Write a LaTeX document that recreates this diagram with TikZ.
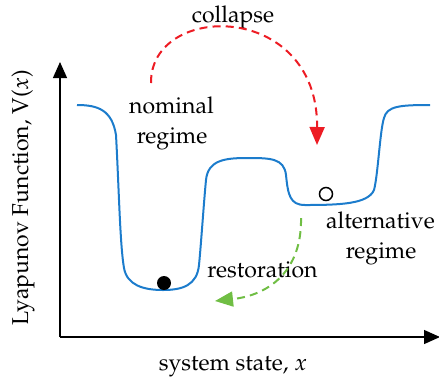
\documentclass[tikz,border=0pt]{standalone}
\usepackage[T1]{fontenc}
\usepackage{mathpazo}
\usetikzlibrary{arrows.meta}
\definecolor{curveblue}{RGB}{28,124,204}
\definecolor{arrred}{RGB}{237,28,36}
\definecolor{arrgreen}{RGB}{112,190,68}
\begin{document}
\begin{tikzpicture}[x=0.5pt,y=-0.5pt,
  lbl/.style={anchor=base,inner sep=0pt,font=\fontsize{11.5}{14}\selectfont},
  axisline/.style={line width=0.65pt,-{Triangle[length=8pt,width=7pt]}},
  potential/.style={curveblue,line width=1pt,line join=round},
  transit/.style={line width=1pt,dash pattern=on 4pt off 2.6pt,-{Triangle[length=9pt,width=7.5pt]}},
  ballstyle/.style={circle,inner sep=0pt,minimum size=7pt}]
\useasboundingbox (0,0) rectangle (439,377);
% axes
\coordinate (origin) at (60,337);
\coordinate (ytip) at (60,62);
\coordinate (xtip) at (440,337);
\draw[axisline] (origin) -- (ytip);
\draw[axisline] (origin) -- (xtip);
% potential curve
\draw[potential] (77,105) .. controls (98,105) and (112,110) .. (116,135)
  .. controls (119,190) and (120,245) .. (124,268)
  .. controls (127,285) and (143,290) .. (163,290)
  .. controls (183,290) and (197,285) .. (199,265)
  .. controls (201,245) and (204,200) .. (206,180)
  .. controls (208,160) and (225,158) .. (247,158)
  .. controls (270,158) and (284,158) .. (286,175)
  .. controls (288,195) and (290,205) .. (305,205)
  .. controls (340,205) and (368,204) .. (374,190)
  .. controls (378,175) and (380,130) .. (384,118)
  .. controls (387,106) and (400,105) .. (430,105);
% balls
\node[ballstyle,fill=black] (ballA) at (164,283) {};
\node[ballstyle,draw=black,line width=0.75pt,minimum size=6.5pt] (ballB) at (326,194) {};
% labels
\node[lbl] (collapse) at (233,22) {collapse};
\node[lbl] (nom1) at (171.5,113) {nominal};
\node[lbl] (nom2) at (172,143) {regime};
\node[lbl] (alt1) at (380.5,228) {alternative};
\node[lbl] (alt2) at (381,258) {regime};
\node[lbl] (restore) at (262.5,277) {restoration};
\node[lbl] (xlabel) at (233,370) {system state, $x$};
\node[lbl,rotate=90] (ylabel) at (28,197.5) {Lyapunov Function, V($x$)};
% transitions
\coordinate (cstart) at (151,83);
\coordinate (cend) at (317,145);
\draw[transit,arrred] (cstart) .. controls (150,2) and (318,0) .. (cend);
\coordinate (rstart) at (301,218);
\coordinate (rend) at (215,301);
\draw[transit,arrgreen] (rstart) .. controls (302,270) and (270,295) .. (rend);
\end{tikzpicture}
\end{document}
